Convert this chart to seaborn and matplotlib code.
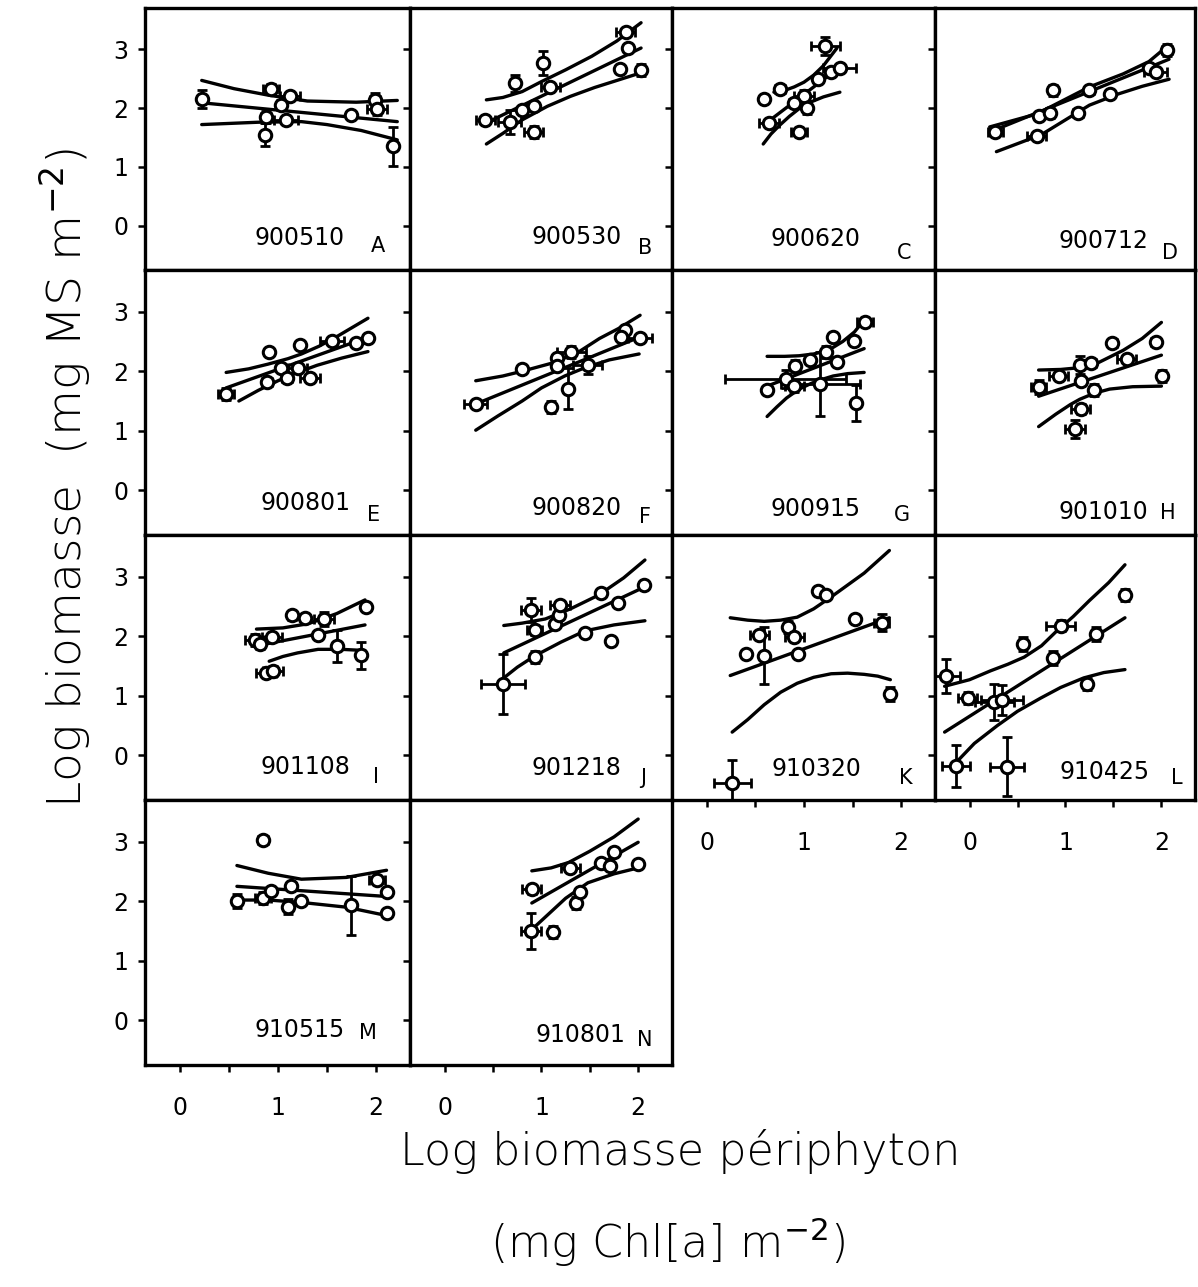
import numpy as np
import pandas as pd
import matplotlib
matplotlib.use("Agg")
import matplotlib.pyplot as plt
import seaborn as sns

# ---------------- data ----------------
PANEL_CODES = ["900510", "900530", "900620", "900712", "900801", "900820", "900915",
               "901010", "901108", "901218", "910320", "910425", "910515", "910801"]
PANEL_LETTERS = list("ABCDEFGHIJKLMN")

A_x = [0.22, 0.93, 0.88, 0.87, 1.12, 1.08, 1.03, 1.75, 1.99, 2.01, 2.18]
A_y = [2.15, 2.33, 1.85, 1.55, 2.20, 1.80, 2.05, 1.89, 2.14, 1.98, 1.35]
A_xe = [0, 0.08, 0.05, 0, 0.10, 0.12, 0, 0, 0.05, 0.10, 0]
A_ye = [0.15, 0.08, 0.10, 0.20, 0.05, 0, 0.08, 0, 0.12, 0.10, 0.33]
A_hi = [(0.22, 2.47), (0.55, 2.33), (0.90, 2.22), (1.30, 2.12), (1.80, 2.10), (2.22, 2.13)]
A_mid = [(0.22, 2.09), (2.22, 1.77)]
A_lo = [(0.22, 1.72), (0.80, 1.76), (1.24, 1.77), (1.50, 1.72), (1.85, 1.62), (2.22, 1.46)]

B_x = [0.42, 0.67, 0.73, 0.80, 0.92, 0.92, 1.02, 1.09, 1.87, 1.89, 1.81, 2.03]
B_y = [1.79, 1.76, 2.42, 1.97, 2.03, 1.60, 2.77, 2.36, 3.30, 3.02, 2.66, 2.65]
B_xe = [0.10, 0.12, 0, 0, 0, 0.10, 0, 0.10, 0.10, 0, 0, 0]
B_ye = [0, 0.20, 0.15, 0, 0, 0.10, 0.20, 0, 0, 0, 0, 0.10]
B_hi = [(0.43, 2.14), (0.60, 2.18), (0.80, 2.28), (1.00, 2.45), (1.25, 2.65), (1.52, 2.88), (1.78, 3.14), (2.03, 3.45)]
B_mid = [(0.43, 1.75), (2.03, 3.02)]
B_lo = [(0.43, 1.39), (0.60, 1.57), (0.80, 1.80), (1.06, 2.03), (1.30, 2.20), (1.55, 2.35), (1.80, 2.48), (2.03, 2.60)]

C_x = [0.59, 0.75, 0.64, 0.95, 1.00, 0.90, 1.03, 1.22, 1.14, 1.28, 1.37]
C_y = [2.15, 2.32, 1.75, 1.60, 2.20, 2.09, 2.00, 3.05, 2.50, 2.61, 2.68]
C_xe = [0, 0.05, 0.10, 0.08, 0.10, 0.05, 0, 0.15, 0, 0, 0.17]
C_ye = [0, 0, 0, 0, 0.10, 0, 0.10, 0.15, 0.05, 0, 0]
C_hi = [(0.69, 2.27), (0.80, 2.30), (0.90, 2.36), (1.00, 2.44), (1.10, 2.56), (1.20, 2.72), (1.34, 3.02)]
C_mid = [(0.59, 1.72), (1.38, 2.71)]
C_lo = [(0.58, 1.39), (0.66, 1.56), (0.75, 1.71), (0.85, 1.86), (0.95, 1.99), (1.05, 2.09), (1.20, 2.19), (1.37, 2.27)]

D_x = [0.27, 0.70, 0.72, 0.84, 0.87, 1.13, 1.25, 1.46, 1.87, 1.94, 2.06]
D_y = [1.59, 1.52, 1.86, 1.92, 2.30, 1.92, 2.31, 2.24, 2.68, 2.61, 2.99]
D_xe = [0.08, 0.10, 0, 0, 0, 0.05, 0.05, 0, 0, 0.12, 0.05]
D_ye = [0.05, 0, 0, 0.08, 0.10, 0.05, 0, 0, 0, 0, 0.10]
D_hi = [(0.21, 1.68), (0.70, 1.90), (1.25, 2.36), (1.60, 2.58), (1.87, 2.79), (2.06, 3.05)]
D_mid = [(0.22, 1.60), (2.08, 2.83)]
D_lo = [(0.28, 1.26), (0.75, 1.55), (1.25, 2.05), (1.55, 2.24), (1.80, 2.37), (2.08, 2.49)]

E_x = [0.47, 0.91, 0.89, 1.03, 1.09, 1.20, 1.23, 1.33, 1.55, 1.80, 1.92]
E_y = [1.62, 2.33, 1.82, 2.06, 1.88, 2.06, 2.44, 1.89, 2.50, 2.48, 2.56]
E_xe = [0.08, 0, 0.05, 0, 0.05, 0.10, 0, 0.10, 0.12, 0, 0]
E_ye = [0.10, 0, 0, 0.05, 0.05, 0.05, 0.05, 0.05, 0.05, 0, 0]
E_hi = [(0.47, 1.98), (0.70, 2.04), (0.90, 2.12), (1.10, 2.21), (1.24, 2.29), (1.42, 2.42), (1.60, 2.58), (1.92, 2.89)]
E_mid = [(0.47, 1.72), (1.92, 2.57)]
E_lo = [(0.60, 1.50), (0.80, 1.68), (1.00, 1.84), (1.20, 1.98), (1.40, 2.10), (1.65, 2.22), (1.92, 2.33)]

F_x = [0.32, 0.80, 1.10, 1.16, 1.16, 1.31, 1.27, 1.48, 1.86, 1.82, 2.02]
F_y = [1.45, 2.04, 1.40, 2.23, 2.09, 2.33, 1.71, 2.11, 2.70, 2.57, 2.55]
F_xe = [0.12, 0, 0, 0, 0, 0.15, 0, 0.15, 0, 0, 0.12]
F_ye = [0, 0, 0.10, 0, 0, 0.10, 0.35, 0.15, 0, 0, 0]
F_hi = [(0.32, 1.84), (0.60, 1.92), (0.80, 2.00), (1.14, 2.15), (1.40, 2.34), (1.60, 2.55), (1.80, 2.72), (2.02, 2.94)]
F_mid = [(0.32, 1.45), (2.01, 2.57)]
F_lo = [(0.32, 1.01), (0.55, 1.25), (0.80, 1.50), (1.00, 1.72), (1.24, 1.92), (1.45, 2.06), (1.70, 2.19), (2.01, 2.29)]

G_x = [0.62, 0.81, 0.90, 0.91, 1.06, 1.17, 1.23, 1.30, 1.34, 1.52, 1.54, 1.63]
G_y = [1.68, 1.87, 1.75, 2.09, 2.19, 1.78, 2.32, 2.57, 2.16, 2.50, 1.47, 2.83]
G_xe = [0, 0.62, 0.10, 0, 0, 0.41, 0, 0, 0, 0, 0, 0.08]
G_ye = [0, 0.15, 0.10, 0.10, 0, 0.54, 0.10, 0, 0, 0, 0.30, 0]
G_hi = [(0.62, 2.25), (0.80, 2.25), (0.95, 2.26), (1.10, 2.29), (1.20, 2.33), (1.30, 2.40), (1.40, 2.50), (1.52, 2.66), (1.62, 2.86)]
G_mid = [(0.62, 1.75), (1.62, 2.38)]
G_lo = [(0.62, 1.24), (0.72, 1.40), (0.82, 1.55), (0.95, 1.70), (1.08, 1.80), (1.20, 1.87), (1.30, 1.92), (1.45, 1.96), (1.62, 1.98)]

H_x = [0.72, 0.93, 1.15, 1.27, 1.16, 1.30, 1.16, 1.10, 1.49, 1.64, 1.94, 2.01]
H_y = [1.74, 1.92, 2.10, 2.14, 1.84, 1.68, 1.37, 1.03, 2.47, 2.21, 2.49, 1.92]
H_xe = [0.08, 0.10, 0, 0.05, 0, 0, 0.10, 0.10, 0.05, 0.10, 0.05, 0]
H_ye = [0.12, 0, 0.15, 0.05, 0, 0.10, 0.08, 0.15, 0, 0, 0, 0.10]
H_hi = [(0.72, 2.02), (0.95, 2.03), (1.15, 2.06), (1.35, 2.15), (1.60, 2.35), (1.80, 2.55), (2.00, 2.82)]
H_mid = [(0.72, 1.58), (2.00, 2.27)]
H_lo = [(0.72, 1.07), (0.90, 1.28), (1.05, 1.44), (1.15, 1.53), (1.30, 1.63), (1.46, 1.70), (1.70, 1.74), (2.00, 1.75)]

I_x = [0.76, 0.82, 0.94, 0.88, 0.95, 1.14, 1.28, 1.47, 1.41, 1.60, 1.85, 1.90]
I_y = [1.93, 1.87, 1.98, 1.38, 1.42, 2.35, 2.31, 2.29, 2.02, 1.84, 1.68, 2.49]
I_xe = [0.10, 0, 0.10, 0.10, 0.10, 0, 0, 0.10, 0, 0, 0, 0]
I_ye = [0.10, 0.08, 0, 0.05, 0.08, 0.08, 0, 0.12, 0, 0.27, 0.23, 0]
I_hi = [(0.78, 2.12), (1.05, 2.14), (1.31, 2.21), (1.60, 2.38), (1.89, 2.61)]
I_mid = [(0.78, 1.84), (1.89, 2.19)]
I_lo = [(0.91, 1.58), (1.05, 1.66), (1.20, 1.72), (1.41, 1.78), (1.65, 1.78), (1.89, 1.76)]

J_x = [0.60, 0.89, 0.93, 0.93, 1.14, 1.18, 1.19, 1.45, 1.62, 1.72, 1.79, 2.06]
J_y = [1.20, 2.44, 2.10, 1.65, 2.21, 2.35, 2.53, 2.06, 2.73, 1.92, 2.56, 2.86]
J_xe = [0.23, 0.10, 0.08, 0, 0, 0, 0.10, 0, 0, 0, 0, 0]
J_ye = [0.51, 0.20, 0.08, 0.10, 0, 0, 0, 0.05, 0, 0, 0, 0]
J_hi = [(0.61, 2.18), (0.80, 2.22), (1.04, 2.29), (1.30, 2.46), (1.59, 2.69), (1.85, 2.98), (2.07, 3.28)]
J_mid = [(0.61, 1.72), (2.07, 2.83)]
J_lo = [(0.61, 1.30), (0.75, 1.48), (0.93, 1.67), (1.20, 1.90), (1.45, 2.09), (1.75, 2.19), (2.07, 2.26)]

K_x = [0.26, 0.40, 0.54, 0.59, 0.84, 0.90, 0.94, 1.14, 1.23, 1.53, 1.80, 1.89]
K_y = [-0.47, 1.71, 2.02, 1.67, 2.16, 1.99, 1.71, 2.76, 2.70, 2.29, 2.23, 1.03]
K_xe = [0.19, 0, 0.10, 0, 0, 0.10, 0, 0, 0, 0, 0.08, 0]
K_ye = [0.40, 0, 0.05, 0.48, 0.10, 0, 0, 0, 0, 0, 0.15, 0.12]
K_hi = [(0.24, 2.31), (0.42, 2.27), (0.59, 2.25), (0.76, 2.27), (0.93, 2.32), (1.10, 2.46),
        (1.28, 2.66), (1.45, 2.86), (1.62, 3.06), (1.75, 3.25), (1.88, 3.44)]
K_mid = [(0.24, 1.34), (1.88, 2.31)]
K_lo = [(0.26, 0.39), (0.42, 0.60), (0.59, 0.85), (0.76, 1.06), (0.93, 1.21), (1.10, 1.31),
        (1.28, 1.37), (1.45, 1.38), (1.62, 1.36), (1.76, 1.33), (1.89, 1.27)]

L_x = [-0.25, -0.02, 0.26, 0.34, -0.14, 0.39, 0.56, 0.87, 0.95, 1.32, 1.22, 1.62]
L_y = [1.33, 0.96, 0.90, 0.93, -0.18, -0.19, 1.87, 1.64, 2.18, 2.04, 1.20, 2.70]
L_xe = [0.15, 0.10, 0.20, 0.22, 0.15, 0.18, 0, 0, 0.15, 0, 0, 0]
L_ye = [0.28, 0.10, 0.30, 0.25, 0.35, 0.50, 0.12, 0.12, 0.10, 0.12, 0.10, 0.10]
L_hi = [(-0.26, 1.16), (0.00, 1.27), (0.22, 1.42), (0.40, 1.53), (0.57, 1.65), (0.75, 1.84),
        (0.91, 2.09), (1.08, 2.33), (1.25, 2.60), (1.45, 2.90), (1.62, 3.20)]
L_mid = [(-0.26, 0.39), (1.62, 2.31)]
L_lo = [(-0.14, -0.12), (0.05, 0.20), (0.29, 0.50), (0.50, 0.74), (0.74, 0.96), (0.95, 1.14),
        (1.19, 1.30), (1.40, 1.39), (1.62, 1.44)]

M_x = [0.85, 0.58, 0.85, 0.93, 1.10, 1.13, 1.24, 1.75, 2.01, 2.11, 2.11]
M_y = [3.03, 2.00, 2.05, 2.17, 1.91, 2.25, 2.00, 1.93, 2.35, 2.15, 1.80]
M_xe = [0.05, 0, 0.08, 0, 0, 0, 0, 0, 0.08, 0, 0]
M_ye = [0.05, 0.12, 0.10, 0, 0.12, 0, 0, 0.50, 0.05, 0, 0]
M_hi = [(0.58, 2.60), (0.90, 2.47), (1.24, 2.37), (1.70, 2.40), (2.11, 2.52)]
M_mid = [(0.58, 2.25), (2.11, 2.08)]
M_lo = [(0.58, 2.02), (0.90, 2.02), (1.24, 1.98), (1.70, 1.90), (2.11, 1.76)]

N_x = [0.90, 0.89, 1.12, 1.30, 1.36, 1.40, 1.62, 1.71, 1.75, 2.00]
N_y = [2.20, 1.50, 1.48, 2.55, 1.97, 2.15, 2.65, 2.60, 2.82, 2.63]
N_xe = [0.10, 0.10, 0, 0.10, 0, 0, 0, 0, 0, 0]
N_ye = [0.08, 0.30, 0.10, 0, 0.10, 0, 0, 0, 0, 0]
N_hi = [(0.90, 2.51), (1.10, 2.56), (1.28, 2.65), (1.50, 2.84), (1.75, 3.08), (2.00, 3.38)]
N_mid = [(0.90, 1.97), (2.00, 2.99)]
N_lo = [(0.85, 1.45), (1.05, 1.75), (1.25, 2.05), (1.48, 2.31), (1.75, 2.46), (2.00, 2.56)]

X_TICKS = [0, 0.5, 1, 1.5, 2]
X_TICK_LABELS = ["0", "", "1", "", "2"]
Y_TICKS = [0, 1, 2, 3]
Y_TICK_LABELS = ["0", "1", "2", "3"]

# --------------- assemble ---------------
PANELS = [
    (A_x, A_y, A_xe, A_ye, A_hi, A_mid, A_lo),
    (B_x, B_y, B_xe, B_ye, B_hi, B_mid, B_lo),
    (C_x, C_y, C_xe, C_ye, C_hi, C_mid, C_lo),
    (D_x, D_y, D_xe, D_ye, D_hi, D_mid, D_lo),
    (E_x, E_y, E_xe, E_ye, E_hi, E_mid, E_lo),
    (F_x, F_y, F_xe, F_ye, F_hi, F_mid, F_lo),
    (G_x, G_y, G_xe, G_ye, G_hi, G_mid, G_lo),
    (H_x, H_y, H_xe, H_ye, H_hi, H_mid, H_lo),
    (I_x, I_y, I_xe, I_ye, I_hi, I_mid, I_lo),
    (J_x, J_y, J_xe, J_ye, J_hi, J_mid, J_lo),
    (K_x, K_y, K_xe, K_ye, K_hi, K_mid, K_lo),
    (L_x, L_y, L_xe, L_ye, L_hi, L_mid, L_lo),
    (M_x, M_y, M_xe, M_ye, M_hi, M_mid, M_lo),
    (N_x, N_y, N_xe, N_ye, N_hi, N_mid, N_lo),
]

pts_rows, curve_rows = [], []
for i, (px, py, pxe, pye, hi, mid, lo) in enumerate(PANELS):
    for a, b, c, d in zip(px, py, pxe, pye):
        pts_rows.append(dict(panel=i, x=a, y=b, xe=c, ye=d))
    for name, cv in (("hi", hi), ("mid", mid), ("lo", lo)):
        for k, (a, b) in enumerate(cv):
            curve_rows.append(dict(panel=i, curve=name, order=k, x=a, y=b))
pts = pd.DataFrame(pts_rows)
curves = pd.DataFrame(curve_rows)

# --------------- layout ---------------
sns.set_theme(style="ticks")
plt.rcParams["font.family"] = ["DejaVu Sans"]
plt.rcParams.update({"text.color": "black", "axes.labelcolor": "black",
                     "xtick.color": "black", "ytick.color": "black",
                     "axes.edgecolor": "black"})

W, H = 1198, 1287
fig = plt.figure(figsize=(W / 100, H / 100), dpi=100)
col_edges = [145, 410, 672, 935, 1195]
row_edges = [8, 270, 535, 800, 1065]

CODE_POS = [(0.585, 0.122), (0.636, 0.126), (0.544, 0.12), (0.647, 0.11),
            (0.604, 0.12), (0.636, 0.103), (0.544, 0.10), (0.647, 0.088),
            (0.604, 0.126), (0.636, 0.12), (0.55, 0.116), (0.654, 0.107),
            (0.585, 0.132), (0.649, 0.113)]
LETTER_POS = [(0.879, 0.092), (0.897, 0.084), (0.883, 0.064), (0.904, 0.065),
              (0.862, 0.075), (0.897, 0.069), (0.873, 0.075), (0.895, 0.082),
              (0.872, 0.088), (0.89, 0.082), (0.89, 0.082), (0.93, 0.082),
              (0.842, 0.12), (0.897, 0.094)]

XLIM = (-0.36, 2.35)
YLIM = (-0.75, 3.7)

for i in range(len(PANELS)):
    r, c = divmod(i, 4)
    l, rr = col_edges[c], col_edges[c + 1]
    t, b = row_edges[r], row_edges[r + 1]
    ax = fig.add_axes([l / W, 1 - b / H, (rr - l) / W, (b - t) / H])
    ax.set_xlim(*XLIM)
    ax.set_ylim(*YLIM)

    sub = pts[pts.panel == i]
    ax.errorbar(sub.x, sub.y, xerr=sub.xe, yerr=sub.ye, fmt="none",
                ecolor="black", elinewidth=2.0, capsize=3.5, capthick=2.0, zorder=3)
    csub = curves[curves.panel == i]
    sns.lineplot(data=csub, x="x", y="y", units="curve", estimator=None, sort=False,
                 color="black", lw=2.4, ax=ax, zorder=2)
    sns.scatterplot(data=sub, x="x", y="y", marker="o", s=80, color="white",
                    edgecolor="black", linewidth=2.2, ax=ax, zorder=5, legend=False)

    ax.set_xlabel("")
    ax.set_ylabel("")
    ax.set_xticks(X_TICKS)
    ax.set_yticks(Y_TICKS)
    show_x = (r == 3) or (r == 2 and c >= 2)
    ax.set_xticklabels(X_TICK_LABELS if show_x else [""] * len(X_TICKS))
    ax.set_yticklabels(Y_TICK_LABELS if c == 0 else [""] * len(Y_TICKS))
    ax.tick_params(axis="both", direction="out", length=5, width=1.8,
                   labelsize=17, top=False, right=False)
    ax.tick_params(axis="x", pad=17)
    ax.tick_params(axis="y", pad=7)
    for sp in ax.spines.values():
        sp.set_linewidth(2.4)
        sp.set_color("black")
        sp.set_visible(True)

    cx, cy = CODE_POS[i]
    ax.text(cx, cy, PANEL_CODES[i], transform=ax.transAxes, ha="center",
            va="center", fontsize=17)
    lx, ly = LETTER_POS[i]
    ax.text(lx, ly, PANEL_LETTERS[i], transform=ax.transAxes, ha="center",
            va="center", fontsize=15)

fig.text(0.054, 1 - 478 / H, "Log biomasse  (mg MS m$^{-2}$)", rotation=90,
         ha="center", va="center", fontsize=34, fontweight="light")
fig.text(0.568, 1 - 1152 / H, "Log biomasse périphyton", ha="center",
         va="center", fontsize=32, fontweight="light")
fig.text(0.557, 1 - 1242 / H, "(mg Chl[a] m$^{-2}$)", ha="center",
         va="center", fontsize=32, fontweight="light")

fig.savefig("out.png", dpi=100, facecolor="white")
